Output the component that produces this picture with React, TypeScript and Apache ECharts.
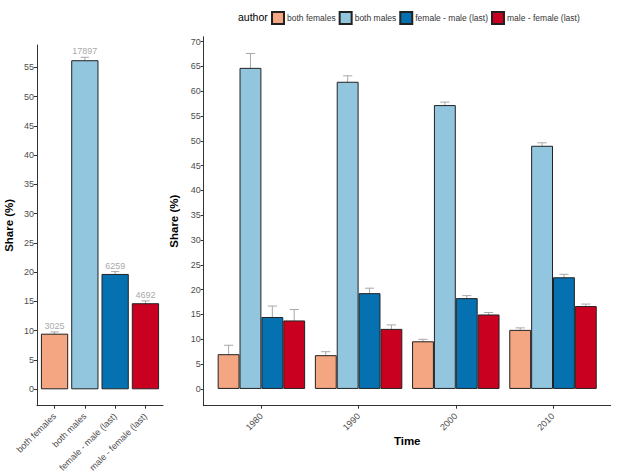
import React, { useEffect, useRef } from "react";
import * as echarts from "echarts";

const authors = ["both females", "both males", "female - male (last)", "male - female (last)"];
const colors = ["#F4A582", "#92C5DE", "#0571B0", "#CA0020"];

const overallShare = [9.5, 56.2, 19.7, 14.7];
const overallLow = [9.2, 55.8, 19.3, 14.4];
const overallHigh = [9.8, 56.7, 20.1, 15.1];
const overallCounts = [3025, 17897, 6259, 4692];

const years = ["1980", "1990", "2000", "2010"];
const shareBothFemales = [7.0, 6.8, 9.6, 11.9];
const shareBothMales = [64.7, 61.9, 57.2, 49.0];
const shareFemaleMale = [14.5, 19.3, 18.3, 22.5];
const shareMaleFemale = [13.8, 12.1, 15.0, 16.7];
const lowBothFemales = [5.8, 6.3, 9.2, 11.6];
const highBothFemales = [8.8, 7.5, 10.0, 12.3];
const lowBothMales = [61.8, 60.8, 56.6, 48.5];
const highBothMales = [67.6, 63.1, 57.8, 49.6];
const lowFemaleMale = [12.5, 18.3, 17.9, 22.1];
const highFemaleMale = [16.7, 20.3, 18.8, 23.1];
const lowMaleFemale = [11.8, 11.4, 14.6, 16.3];
const highMaleFemale = [16.0, 12.9, 15.4, 17.1];

const leftYTicks = [0, 5, 10, 15, 20, 25, 30, 35, 40, 45, 50, 55];
const rightYTicks = [0, 5, 10, 15, 20, 25, 30, 35, 40, 45, 50, 55, 60, 65, 70];

const FONT = "Liberation Sans, Arial, sans-serif";
const AXIS_COLOR = "#333";
const LABEL_COLOR = "#4d4d4d";
const ERR_COLOR = "#a8a8a8";

const shares = [shareBothFemales, shareBothMales, shareFemaleMale, shareMaleFemale];
const lows = [lowBothFemales, lowBothMales, lowFemaleMale, lowMaleFemale];
const highs = [highBothFemales, highBothMales, highFemaleMale, highMaleFemale];

export default function App() {
  const ref = useRef<HTMLDivElement>(null);
  useEffect(() => {
    if (!ref.current) return;
    const chart = echarts.init(ref.current, null, { renderer: "svg" });

    const outerY = (min: number, max: number, ticks: number[], gridIndex: number, nameGap: number) => ({
      type: "value",
      gridIndex,
      min,
      max,
      name: "Share (%)",
      nameLocation: "middle",
      nameGap,
      nameTextStyle: { fontFamily: FONT, fontWeight: "bold", fontSize: 11.5, color: "#000" },
      axisLine: { show: true, onZero: false, lineStyle: { color: AXIS_COLOR, width: 1 } },
      axisTick: { show: true, length: 3, customValues: ticks, lineStyle: { color: AXIS_COLOR } },
      axisLabel: { show: true, customValues: ticks, fontFamily: FONT, fontSize: 9, color: LABEL_COLOR, margin: 3 },
      splitLine: { show: false },
    });
    const innerY = (min: number, max: number, gridIndex: number) => ({
      type: "value",
      gridIndex,
      min,
      max,
      show: false,
      splitLine: { show: false },
    });
    const outerX = (gridIndex: number, name: string) => ({
      type: "value",
      gridIndex,
      min: 0,
      max: 1,
      name,
      nameLocation: "middle",
      nameGap: 29,
      nameTextStyle: { fontFamily: FONT, fontWeight: "bold", fontSize: 11.5, color: "#000" },
      axisLine: { show: true, onZero: false, lineStyle: { color: AXIS_COLOR, width: 1 } },
      axisTick: { show: false },
      axisLabel: { show: false },
      splitLine: { show: false },
    });
    const innerX = (gridIndex: number, data: string[], fontSize: number) => ({
      type: "category",
      gridIndex,
      data,
      axisLine: { show: false, onZero: false },
      axisTick: { show: true, alignWithLabel: true, length: 3, lineStyle: { color: AXIS_COLOR } },
      axisLabel: { rotate: 45, fontFamily: FONT, fontSize, color: LABEL_COLOR, margin: 9 },
      splitLine: { show: false },
    });

    const leftErrData = authors.map((_, i) => [i, overallLow[i], overallHigh[i], overallCounts[i]]);
    const rightErrData: number[][] = [];
    years.forEach((_, c) => {
      authors.forEach((_, a) => {
        rightErrData.push([c, lows[a][c], highs[a][c], a]);
      });
    });

    const option: any = {
      animation: false,
      textStyle: { fontFamily: FONT },
      grid: [
        { left: 37, right: 454, top: 45, bottom: 70.3 },
        { left: 39.4, right: 456.4, top: 45, bottom: 70.3 },
        { left: 203.7, right: 6.3, top: 36.7, bottom: 70.3 },
        { left: 212.8, right: 15.4, top: 36.7, bottom: 70.3 },
      ],
      legend: {
        data: authors,
        left: 271,
        top: 11,
        width: 400,
        padding: 0,
        orient: "horizontal",
        icon: "rect",
        itemWidth: 12,
        itemHeight: 12,
        itemGap: 3,
        textStyle: { fontFamily: FONT, fontSize: 8.5, color: "#333", padding: [0, 0, 0, -2] },
      },
      graphic: [
        {
          type: "text",
          left: 238,
          top: 11,
          style: { text: "author", fontFamily: FONT, fontSize: 10.5, fill: "#000" },
        },
      ],
      xAxis: [outerX(0, ""), innerX(1, authors, 9), outerX(2, "Time"), innerX(3, years, 9)],
      yAxis: [
        outerY(-2.8, 58.8, leftYTicks, 0, 22.5),
        innerY(-2.8, 58.8, 1),
        outerY(-3.38, 70.98, rightYTicks, 2, 21),
        innerY(-3.38, 70.98, 3),
      ],
      series: [
        {
          type: "bar",
          name: "overall",
          xAxisIndex: 1,
          yAxisIndex: 1,
          barCategoryGap: "10%",
          data: overallShare.map((v, i) => ({ value: v, itemStyle: { color: colors[i] } })),
          itemStyle: { borderColor: "#222", borderWidth: 1 },
        },
        {
          type: "custom",
          name: "overallErr",
          xAxisIndex: 1,
          yAxisIndex: 1,
          data: leftErrData,
          encode: { x: 0, y: [1, 2] },
          renderItem: (params: any, api: any) => {
            const ci = api.value(0);
            const lo = api.coord([ci, api.value(1)]);
            const hi = api.coord([ci, api.value(2)]);
            const band = api.size([1, 0])[0];
            const cap = band * 0.9 * 0.3;
            const x = lo[0];
            const ls = { stroke: ERR_COLOR, lineWidth: 1 };
            return {
              type: "group",
              children: [
                { type: "line", shape: { x1: x, y1: lo[1], x2: x, y2: hi[1] }, style: ls },
                { type: "line", shape: { x1: x - cap / 2, y1: lo[1], x2: x + cap / 2, y2: lo[1] }, style: ls },
                { type: "line", shape: { x1: x - cap / 2, y1: hi[1], x2: x + cap / 2, y2: hi[1] }, style: ls },
                {
                  type: "text",
                  x,
                  y: hi[1] - 6,
                  style: {
                    text: String(api.value(3)),
                    fontFamily: FONT,
                    fontSize: 9,
                    fill: "#aaaaaa",
                    align: "center",
                    verticalAlign: "middle",
                  },
                },
              ],
            };
          },
        },
        ...authors.map((name, a) => ({
          type: "bar",
          name,
          xAxisIndex: 3,
          yAxisIndex: 3,
          barGap: "0%",
          barCategoryGap: "10%",
          data: shares[a],
          itemStyle: { color: colors[a], borderColor: "#222", borderWidth: 1 },
        })),
        {
          type: "custom",
          name: "timeErr",
          xAxisIndex: 3,
          yAxisIndex: 3,
          data: rightErrData,
          encode: { x: 0, y: [1, 2] },
          renderItem: (params: any, api: any) => {
            const ci = api.value(0);
            const a = api.value(3);
            const lo = api.coord([ci, api.value(1)]);
            const hi = api.coord([ci, api.value(2)]);
            const band = api.size([1, 0])[0];
            const barW = band * 0.225;
            const x = lo[0] + (-0.45 + (a + 0.5) * 0.225) * band;
            const cap = barW * 0.42;
            const ls = { stroke: ERR_COLOR, lineWidth: 1 };
            return {
              type: "group",
              children: [
                { type: "line", shape: { x1: x, y1: lo[1], x2: x, y2: hi[1] }, style: ls },
                { type: "line", shape: { x1: x - cap / 2, y1: lo[1], x2: x + cap / 2, y2: lo[1] }, style: ls },
                { type: "line", shape: { x1: x - cap / 2, y1: hi[1], x2: x + cap / 2, y2: hi[1] }, style: ls },
              ],
            };
          },
        },
      ],
    };
    chart.setOption(option);
    return () => chart.dispose();
  }, []);
  return (
    <div
      ref={ref}
      style={{ position: "fixed", left: 0, top: 0, width: 617, height: 476, background: "#fff" }}
    />
  );
}
